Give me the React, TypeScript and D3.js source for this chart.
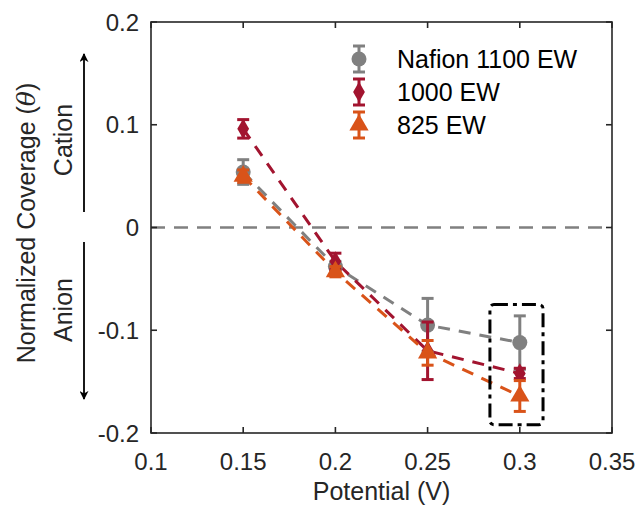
import React from 'react';
import * as d3 from 'd3';

const potentials = [0.15, 0.2, 0.25, 0.3];
const seriesNames = ['Nafion 1100 EW', '1000 EW', '825 EW'];
const seriesColors = ['#808080', '#A2142F', '#D95319'];
const seriesShapes = ['circle', 'diamond', 'triangle'];
const nafion1100 = [0.054, -0.038, -0.095, -0.112];
const nafion1100Err = [0.012, 0.005, 0.026, 0.026];
const nafion1000 = [0.096, -0.033, -0.12, -0.142];
const nafion1000Err = [0.009, 0.008, 0.028, 0.005];
const nafion825 = [0.05, -0.043, -0.122, -0.164];
const nafion825Err = [0.006, 0.005, 0.012, 0.015];
const xTicks = [0.1, 0.15, 0.2, 0.25, 0.3, 0.35];
const yTicks = [-0.2, -0.1, 0, 0.1, 0.2];
const highlightBox = { x0: 0.2838, x1: 0.3126, y0: -0.075, y1: -0.192 };

const values = [nafion1100, nafion1000, nafion825];
const errors = [nafion1100Err, nafion1000Err, nafion825Err];

const W = 640;
const H = 513;
const font = 'Liberation Sans, Arial, sans-serif';
const axisColor = '#262626';

const x = d3.scaleLinear().domain([0.1, 0.35]).range([151, 612]);
const y = d3.scaleLinear().domain([-0.2, 0.2]).range([433, 22]);

function marker(shape: string, cx: number, cy: number, color: string, key?: string) {
  if (shape === 'circle') {
    return <circle key={key} cx={cx} cy={cy} r={7.5} fill={color} />;
  }
  const sym = shape === 'diamond' ? d3.symbolDiamond : d3.symbolTriangle;
  const size = shape === 'diamond' ? 120 : 160;
  return (
    <path key={key} d={d3.symbol().type(sym).size(size)() || ''}
      transform={`translate(${cx},${cy})`} fill={color} />
  );
}

export default function App() {
  const line = d3.line<number>()
    .x((_, i) => x(potentials[i]))
    .y(d => y(d));
  const cap = 6;

  return (
    <svg width={W} height={H} style={{ display: 'block', position: 'absolute', left: 0, top: 0 }}>
      <rect width={W} height={H} fill="#fff" />

      {/* zero line */}
      <line x1={x(0.1)} x2={x(0.35)} y1={y(0)} y2={y(0)}
        stroke="#808080" strokeWidth={2.5} strokeDasharray="14,9" />

      {/* dashed lines */}
      {values.map((v, s) => (
        <path key={'l' + s} d={line(v) || ''} fill="none" stroke={seriesColors[s]}
          strokeWidth={3} strokeDasharray="12,9" />
      ))}

      {/* error bars and markers */}
      {values.map((v, s) => (
        <g key={'s' + s}>
          {v.map((d, i) => {
            const cx = x(potentials[i]);
            const top = y(d + errors[s][i]);
            const bot = y(d - errors[s][i]);
            return (
              <g key={i} stroke={seriesColors[s]} strokeWidth={3}>
                <line x1={cx} x2={cx} y1={top} y2={bot} />
                <line x1={cx - cap} x2={cx + cap} y1={top} y2={top} />
                <line x1={cx - cap} x2={cx + cap} y1={bot} y2={bot} />
              </g>
            );
          })}
          {v.map((d, i) => marker(seriesShapes[s], x(potentials[i]), y(d), seriesColors[s], 'm' + i))}
        </g>
      ))}

      {/* highlight box */}
      <rect x={x(highlightBox.x0)} y={y(highlightBox.y0)}
        width={x(highlightBox.x1) - x(highlightBox.x0)} height={y(highlightBox.y1) - y(highlightBox.y0)}
        rx={4} fill="none" stroke="#000" strokeWidth={3} strokeDasharray="14,5,4,5" />

      {/* axes box */}
      <rect x={x(0.1)} y={y(0.2)} width={x(0.35) - x(0.1)} height={y(-0.2) - y(0.2)}
        fill="none" stroke={axisColor} strokeWidth={1.6} />
      {xTicks.map(t => (
        <g key={'xt' + t}>
          <line x1={x(t)} x2={x(t)} y1={y(-0.2)} y2={y(-0.2) - 6} stroke={axisColor} strokeWidth={1.6} />
          <line x1={x(t)} x2={x(t)} y1={y(0.2)} y2={y(0.2) + 6} stroke={axisColor} strokeWidth={1.6} />
          <text x={x(t)} y={470} textAnchor="middle" fontFamily={font} fontSize={24} fill={axisColor}>{t}</text>
        </g>
      ))}
      {yTicks.map(t => (
        <g key={'yt' + t}>
          <line x1={x(0.1)} x2={x(0.1) + 6} y1={y(t)} y2={y(t)} stroke={axisColor} strokeWidth={1.6} />
          <line x1={x(0.35)} x2={x(0.35) - 6} y1={y(t)} y2={y(t)} stroke={axisColor} strokeWidth={1.6} />
          <text x={139} y={y(t) + 8.5} textAnchor="end" fontFamily={font} fontSize={24} fill={axisColor}>{t}</text>
        </g>
      ))}

      {/* axis labels */}
      <text x={(x(0.1) + x(0.35)) / 2} y={500} textAnchor="middle" fontFamily={font} fontSize={25} fill={axisColor}>Potential (V)</text>
      <text transform="translate(35,223) rotate(-90)" textAnchor="middle" fontFamily={font} fontSize={25} fill={axisColor}>
        Normalized Coverage (<tspan fontStyle="italic" fontFamily="DejaVu Serif, serif">θ</tspan>)
      </text>
      <text transform="translate(72,140) rotate(-90)" textAnchor="middle" fontFamily={font} fontSize={25} fill={axisColor}>Cation</text>
      <text transform="translate(72,310) rotate(-90)" textAnchor="middle" fontFamily={font} fontSize={25} fill={axisColor}>Anion</text>

      {/* arrows */}
      <defs>
        <marker id="ah" viewBox="0 0 10 10" refX="9" refY="5" markerWidth="5" markerHeight="5" orient="auto">
          <path d="M0,0 L10,5 L0,10 L3,5 Z" fill="#000" />
        </marker>
      </defs>
      <line x1={84} x2={84} y1={212} y2={54} stroke="#000" strokeWidth={1.8} markerEnd="url(#ah)" />
      <line x1={84} x2={84} y1={242} y2={399} stroke="#000" strokeWidth={1.8} markerEnd="url(#ah)" />

      {/* legend */}
      {seriesNames.map((n, i) => {
        const ly = 59 + i * 33;
        return (
          <g key={'lg' + i}>
            <g stroke={seriesColors[i]} strokeWidth={3}>
              <line x1={359} x2={359} y1={ly - 13} y2={ly + 13} />
              <line x1={353} x2={365} y1={ly - 13} y2={ly - 13} />
              <line x1={353} x2={365} y1={ly + 13} y2={ly + 13} />
            </g>
            {marker(seriesShapes[i], 359, ly, seriesColors[i])}
            <text x={397} y={ly + 9} fontFamily={font} fontSize={25} fill="#000">{n}</text>
          </g>
        );
      })}
    </svg>
  );
}
